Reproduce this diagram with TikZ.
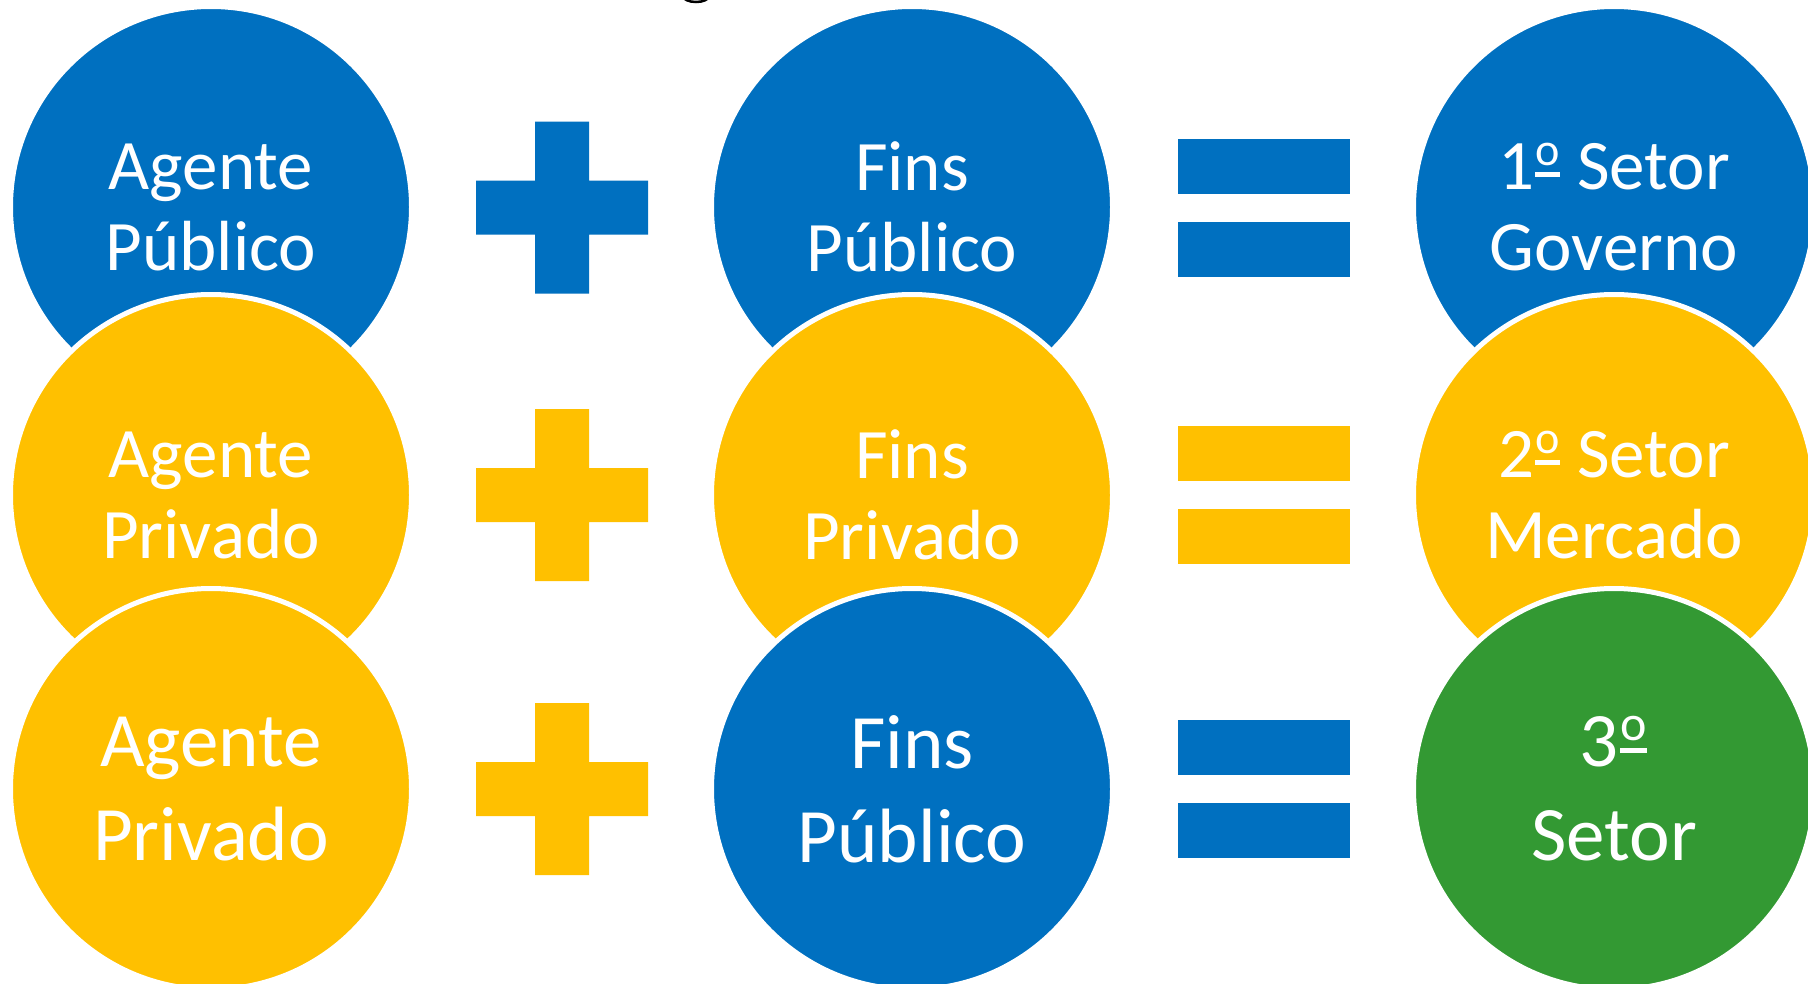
\documentclass[tikz,border=0pt]{standalone}
\usepackage{fontspec}
\usepackage{graphicx}
\setmainfont{Carlito}
\newcommand{\myord}{\kern0.02em\rlap{\rule[0.18em]{0.34em}{0.06em}}\makebox[0.34em]{\raisebox{0.34em}{\scalebox{0.65}{o}}}\kern0.02em}
\definecolor{cblue}{HTML}{0070C0}
\definecolor{cyellow}{HTML}{FFC000}
\definecolor{cgreen}{HTML}{339933}
\tikzset{
  pics/plussign/.style={code={
    \fill[#1] (-27,-86) -- (27,-86) -- (27,-27) -- (86,-27) -- (86,27) -- (27,27)
      -- (27,86) -- (-27,86) -- (-27,27) -- (-86,27) -- (-86,-27) -- (-27,-27) -- cycle;}},
  pics/equalsign/.style={code={
    \fill[#1] (-86,-69) rectangle (86,-14);
    \fill[#1] (-86,14) rectangle (86,69);}},
  disc/.style={circle, draw=white, line width=5bp, minimum size=401bp, inner sep=0pt,
    text=white, align=center, font=\fontsize{71bp}{81bp}\selectfont},
  bigtext/.style={font=\fontsize{77bp}{94bp}\selectfont}
}
\begin{document}
\begin{tikzpicture}[x=1bp,y=-1bp]
\useasboundingbox (0,0) rectangle (1808,983);
\clip (0,0) rectangle (1808,983);
\fill[white] (0,0) rectangle (1808,983);
% small black mark at top edge
\draw[line width=2.5bp] (696,-4) ellipse [x radius=13, y radius=6];
% row 1
\node[disc, fill=cblue] (a1) at (211,207) {Agente\\Público};
\node[disc, fill=cblue] (b1) at (912,207) {Fins\\Público};
\node[disc, fill=cblue] (c1) at (1614,207) {1\myord{} Setor\\Governo};
\pic at (562,207.5) {plussign=cblue};
\pic at (1263.5,208) {equalsign=cblue};
% row 2
\node[disc, fill=cyellow] (a2) at (211,495) {Agente\\Privado};
\node[disc, fill=cyellow] (b2) at (912,495) {Fins\\Privado};
\node[disc, fill=cyellow] (c2) at (1614,495) {2\myord{} Setor\\Mercado};
\pic at (562,495) {plussign=cyellow};
\pic at (1263.5,495) {equalsign=cyellow};
% row 3
\node[disc, bigtext, fill=cyellow] (a3) at (211,789) {Agente\\Privado};
\node[disc, bigtext, fill=cblue] (b3) at (912,789) {Fins\\Público};
\node[disc, bigtext, fill=cgreen] (c3) at (1614,789) {3\myord\\Setor};
\pic at (562,789) {plussign=cyellow};
\pic at (1263.5,789) {equalsign=cblue};
\end{tikzpicture}
\end{document}
